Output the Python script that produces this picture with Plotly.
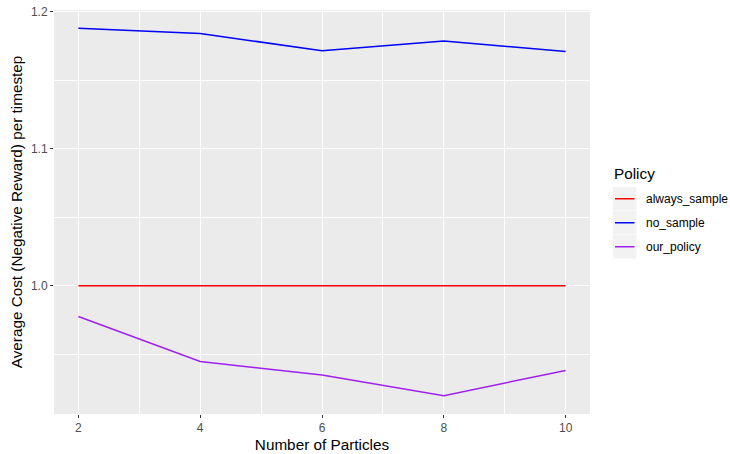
import plotly.graph_objects as go

particles = [2, 4, 6, 8, 10]
always_sample = [1.0, 1.0, 1.0, 1.0, 1.0]
no_sample = [1.1877, 1.1840, 1.1713, 1.1785, 1.1708]
our_policy = [0.9775, 0.9447, 0.9348, 0.9198, 0.9382]
series_names = ["always_sample", "no_sample", "our_policy"]
series_colors = ["#FF0000", "#0000FF", "#A020F0"]
x_ticks = [2, 4, 6, 8, 10]
y_ticks = [1.0, 1.1, 1.2]

W, H = 730, 454
L, R, T, B = 54, 140, 10, 40
pw, ph = W - L - R, H - T - B
TITLE_SIZE = 15.3
TEXT_SIZE = 12

fig = go.Figure()
for name, vals, col in zip(series_names, [always_sample, no_sample, our_policy], series_colors):
    fig.add_trace(go.Scatter(x=particles, y=vals, mode="lines", name=name,
                             line=dict(color=col, width=1.5), showlegend=False))

def px2paper(x, y):
    return (x - L) / pw, 1 - (y - T) / ph

# ggplot-style legend: key boxes, key lines, labels
tx, ty = px2paper(612, 173)
fig.add_annotation(text="Policy", xref="paper", yref="paper", x=tx, y=ty,
                   xanchor="left", yanchor="middle", showarrow=False,
                   font=dict(size=TITLE_SIZE, color="black"))
key_top = 187
key_size = 23.5
for i, (name, col) in enumerate(zip(series_names, series_colors)):
    top = key_top + i * 24
    x0, y0 = px2paper(613, top)
    x1, y1 = px2paper(613 + key_size, top + key_size)
    fig.add_shape(type="rect", xref="paper", yref="paper", x0=x0, x1=x1, y0=y1, y1=y0,
                  fillcolor="#F2F2F2", line=dict(width=0), layer="below")
    cy = top + key_size / 2
    lx0, ly = px2paper(615, cy)
    lx1, _ = px2paper(634.5, cy)
    fig.add_shape(type="line", xref="paper", yref="paper", x0=lx0, x1=lx1, y0=ly, y1=ly,
                  line=dict(color=col, width=1.5))
    ax, ay = px2paper(644, cy)
    fig.add_annotation(text=name, xref="paper", yref="paper", x=ax, y=ay,
                       xanchor="left", yanchor="middle", showarrow=False,
                       font=dict(size=TEXT_SIZE, color="black"))

font = "Liberation Sans, Arial, sans-serif"
fig.update_layout(
    width=W, height=H,
    margin=dict(l=L, r=R, t=T, b=B),
    paper_bgcolor="white", plot_bgcolor="#EBEBEB",
    font=dict(family=font, color="black"),
    showlegend=False,
)
fig.update_xaxes(
    range=[1.6, 10.4], tickvals=x_ticks, ticktext=[str(v) for v in x_ticks],
    showgrid=True, gridcolor="white", gridwidth=1.1, zeroline=False,
    ticks="outside", ticklen=3, tickcolor="#333333", tickwidth=1,
    tickfont=dict(size=TEXT_SIZE, color="#4D4D4D"),
    minor=dict(tickvals=[3, 5, 7, 9], showgrid=True, gridcolor="white", gridwidth=0.5, ticks=""),
    title=dict(text="Number of Particles", font=dict(size=TITLE_SIZE), standoff=4),
    showline=False, automargin=False,
)
fig.update_yaxes(
    range=[0.9064, 1.2011], tickvals=y_ticks, ticktext=["1.0", "1.1", "1.2"],
    showgrid=True, gridcolor="white", gridwidth=1.1, zeroline=False,
    ticks="outside", ticklen=3, tickcolor="#333333", tickwidth=1,
    tickfont=dict(size=TEXT_SIZE, color="#4D4D4D"),
    minor=dict(tickvals=[0.95, 1.05, 1.15], showgrid=True, gridcolor="white", gridwidth=0.5, ticks=""),
    title=dict(text="Average Cost (Negative Reward) per timestep", font=dict(size=TITLE_SIZE), standoff=4),
    showline=False, automargin=False,
)
fig.write_html("out.html", config={"displayModeBar": False},
               post_script="document.body.style.margin='0px';")
